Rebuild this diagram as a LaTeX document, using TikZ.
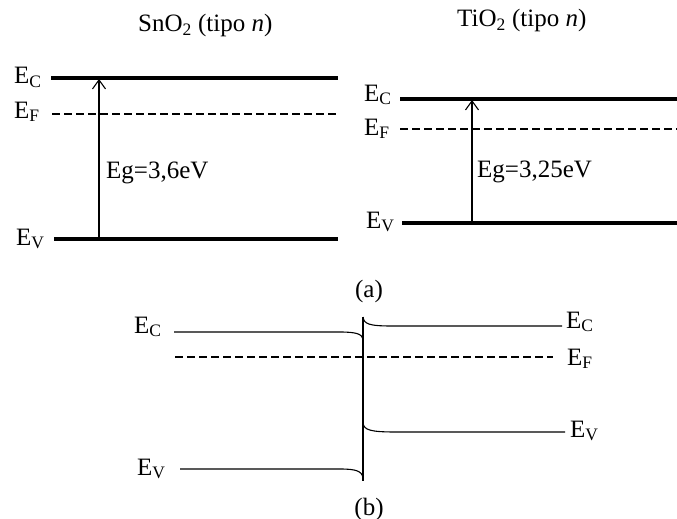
\documentclass[tikz,border=0pt]{standalone}
\usepackage{fontspec}
\setmainfont{Liberation Serif}
\usetikzlibrary{arrows.meta}
\begin{document}
\begin{tikzpicture}[x=1pt,y=-1pt,
  lbl/.style={inner sep=0pt,anchor=base west,font=\fontsize{25}{29}\selectfont},
  ctr/.style={inner sep=0pt,font=\fontsize{25}{29}\selectfont},
  bandthick/.style={line width=3.5pt},
  fermi/.style={line width=2.5pt,dash pattern=on 7.5pt off 4.5pt},
  thin/.style={line width=1.1pt},
  gaparrow/.style={line width=1.1pt,-{Straight Barb[length=9pt,width=13pt,line width=1.1pt]}}]
\useasboundingbox (0,0) rectangle (677,519);
% ---------- (a) left: SnO2
\node[lbl] (t1) at (138,32) {SnO\textsubscript{2} (tipo \textit{n})};
\coordinate (lc1) at (51,78);  \coordinate (rc1) at (338,78);
\coordinate (lf1) at (52,114); \coordinate (rf1) at (338,114);
\coordinate (lv1) at (54,239); \coordinate (rv1) at (338,239);
\draw[bandthick] (lc1) -- (rc1);
\draw[fermi] (lf1) -- (rf1);
\draw[bandthick] (lv1) -- (rv1);
\coordinate (a1s) at (99,239); \coordinate (a1e) at (99,79);
\draw[gaparrow] (a1s) -- (a1e);
\node[lbl] (ec1) at (14,84) {E\textsubscript{C}};
\node[lbl] (ef1) at (14,118) {E\textsubscript{F}};
\node[lbl] (ev1) at (16,245) {E\textsubscript{V}};
\node[lbl] (eg1) at (106,178) {Eg=3,6eV};
% ---------- (a) right: TiO2
\node[lbl] (t2) at (457,27) {TiO\textsubscript{2} (tipo \textit{n})};
\coordinate (lc2) at (400,99);  \coordinate (rc2) at (677,99);
\coordinate (lf2) at (400,129); \coordinate (rf2) at (677,129);
\coordinate (lv2) at (402,223); \coordinate (rv2) at (677,223);
\draw[bandthick] (lc2) -- (rc2);
\draw[fermi] (lf2) -- (rf2);
\draw[bandthick] (lv2) -- (rv2);
\coordinate (a2s) at (472,223); \coordinate (a2e) at (472,100);
\draw[gaparrow] (a2s) -- (a2e);
\node[lbl] (ec2) at (364,101) {E\textsubscript{C}};
\node[lbl] (ef2) at (364,135) {E\textsubscript{F}};
\node[lbl] (ev2) at (366,228) {E\textsubscript{V}};
\node[lbl] (eg2) at (477,177) {Eg=3,25eV};
\node[ctr] (capa) at (369,291) {(a)};
% ---------- (b) heterojunction
\coordinate (jt) at (363,317); \coordinate (jb) at (363,481);
\draw[thin] (jt) -- (jb);
\draw[thin] (174,332) -- (340,332) .. controls (356,332) and (362,334) .. (363,339);
\draw[thin] (jt) .. controls (364,324) and (369,326) .. (392,326) -- (562,326);
\draw[thin] (363,423) .. controls (364,430) and (370,432) .. (396,432) -- (565,432);
\draw[thin] (180,469) -- (340,469) .. controls (356,469) and (362,471) .. (363,478);
\draw[fermi] (175,357) -- (553,357);
\node[lbl] (ec3) at (134,333) {E\textsubscript{C}};
\node[lbl] (ev3) at (137,475) {E\textsubscript{V}};
\node[lbl] (ec4) at (566,328) {E\textsubscript{C}};
\node[lbl] (ef4) at (567,365) {E\textsubscript{F}};
\node[lbl] (ev4) at (570,437) {E\textsubscript{V}};
\node[ctr] (capb) at (369,509) {(b)};
\end{tikzpicture}
\end{document}
